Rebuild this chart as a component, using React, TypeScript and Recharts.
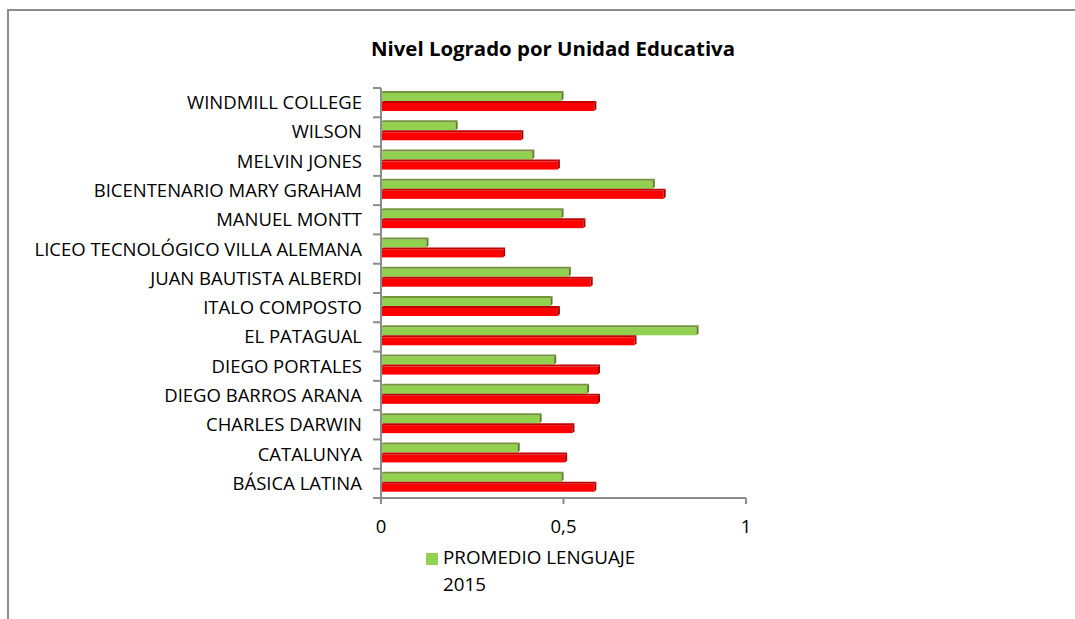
import React from 'react';
import { BarChart, Bar, XAxis, YAxis } from 'recharts';

const categories = [
  'WINDMILL COLLEGE',
  'WILSON',
  'MELVIN JONES',
  'BICENTENARIO MARY GRAHAM',
  'MANUEL MONTT',
  'LICEO TECNOLÓGICO VILLA ALEMANA',
  'JUAN BAUTISTA ALBERDI',
  'ITALO COMPOSTO',
  'EL PATAGUAL',
  'DIEGO PORTALES',
  'DIEGO BARROS ARANA',
  'CHARLES DARWIN',
  'CATALUNYA',
  'BÁSICA LATINA',
];
const lenguaje2015 = [0.5, 0.21, 0.42, 0.75, 0.5, 0.13, 0.52, 0.47, 0.87, 0.48, 0.57, 0.44, 0.38, 0.5];
const serie2 = [0.59, 0.39, 0.49, 0.78, 0.56, 0.34, 0.58, 0.49, 0.7, 0.6, 0.6, 0.53, 0.51, 0.59];
const xTicks = [0, 0.5, 1];
const titleText = 'Nivel Logrado por Unidad Educativa';
const greenName = 'PROMEDIO LENGUAJE 2015';
const redName = 'PROMEDIO 2014';

const data = categories.map((name, i) => ({ name, green: lenguaje2015[i], red: serie2[i] }));

const FONT = '"Open Sans", sans-serif';
const AXIS = '#8c8c8c';
const GREEN = '#92D050';
const GREEN_TOP = '#76933C';
const GREEN_SIDE = '#5E7A2C';
const RED = '#FF0000';
const RED_TOP = '#C00000';
const RED_SIDE = '#A00000';

const W = 1075;
const H = 619;
const M = { top: 88, right: 329, bottom: 81, left: 0 };
const Y_W = 381;
const X_H = 40;
const PLOT_H = H - M.top - M.bottom - X_H;
const LABEL_FS = 18.5;

function make3D(front: string, top: string, side: string) {
  return (props: any) => {
    const { x, width, height } = props;
    const y = props.y - 2;
    if (!width || width <= 0) return <g />;
    const d = 2;
    return (
      <g>
        <rect x={x} y={y + d} width={Math.max(width - d, 0)} height={height - d} fill={front} />
        <polygon points={`${x},${y + d} ${x + d},${y} ${x + width},${y} ${x + width - d},${y + d}`} fill={top} />
        <polygon
          points={`${x + width - d},${y + d} ${x + width},${y} ${x + width},${y + height - d} ${x + width - d},${y + height}`}
          fill={side}
        />
      </g>
    );
  };
}

const YTick = (props: any) => {
  const { x, y, payload, index } = props;
  const half = payload && payload.offset ? payload.offset : PLOT_H / categories.length / 2;
  const lx1 = x + 11;
  const lx2 = x + 19;
  return (
    <g>
      <text x={x} y={y} dy="0.35em" textAnchor="end" fill="#000" fontSize={LABEL_FS} fontFamily={FONT}>
        {payload.value}
      </text>
      <line x1={lx1} x2={lx2} y1={y - half} y2={y - half} stroke={AXIS} strokeWidth={2} />
      {index === categories.length - 1 ? (
        <line x1={lx1} x2={lx2} y1={y + half} y2={y + half} stroke={AXIS} strokeWidth={2} />
      ) : null}
    </g>
  );
};

export default function App() {
  return (
    <div style={{ position: 'absolute', left: 0, top: 0, width: W, height: H, background: '#fff', fontFamily: FONT }}>
      <div
        style={{
          position: 'absolute',
          left: 7,
          top: 9,
          width: W,
          height: H,
          borderTop: `2px solid ${AXIS}`,
          borderLeft: `2px solid ${AXIS}`,
          boxSizing: 'border-box',
        }}
      />
      <BarChart
        width={W}
        height={H}
        data={data}
        layout="vertical"
        margin={M}
        barSize={10}
        barGap={0}
        style={{ position: 'absolute', left: 0, top: 0 }}
      >
        <XAxis
          type="number"
          domain={[0, 1]}
          ticks={xTicks}
          height={X_H}
          tickFormatter={(v: number) => String(v).replace('.', ',')}
          axisLine={{ stroke: AXIS, strokeWidth: 2 }}
          tickLine={{ stroke: AXIS, strokeWidth: 2 }}
          tickSize={6}
          tickMargin={16}
          tick={{ fill: '#000', fontSize: LABEL_FS, fontFamily: FONT }}
        />
        <YAxis
          type="category"
          dataKey="name"
          width={Y_W}
          axisLine={{ stroke: AXIS, strokeWidth: 2 }}
          tickLine={false}
          tickSize={8}
          tickMargin={11}
          interval={0}
          tick={<YTick />}
        />
        <Bar dataKey="green" name={greenName} fill={GREEN} isAnimationActive={false} shape={make3D(GREEN, GREEN_TOP, GREEN_SIDE)} />
        <Bar dataKey="red" name={redName} fill={RED} isAnimationActive={false} shape={make3D(RED, RED_TOP, RED_SIDE)} />
      </BarChart>
      <div
        style={{
          position: 'absolute',
          left: 0,
          width: 1106,
          top: 34,
          textAlign: 'center',
          fontWeight: 700,
          fontSize: 20.4,
          color: '#000',
          fontFamily: FONT,
          lineHeight: '28px',
        }}
      >
        {titleText}
      </div>
      <div style={{ position: 'absolute', left: 426, top: 544, display: 'flex', alignItems: 'flex-start' }}>
        <div style={{ width: 12, height: 12, background: GREEN, marginTop: 9, marginRight: 5 }} />
        <div style={{ width: 205, fontSize: 18.8, lineHeight: '27px', color: '#000', fontFamily: FONT }}>{greenName}</div>
      </div>
    </div>
  );
}
